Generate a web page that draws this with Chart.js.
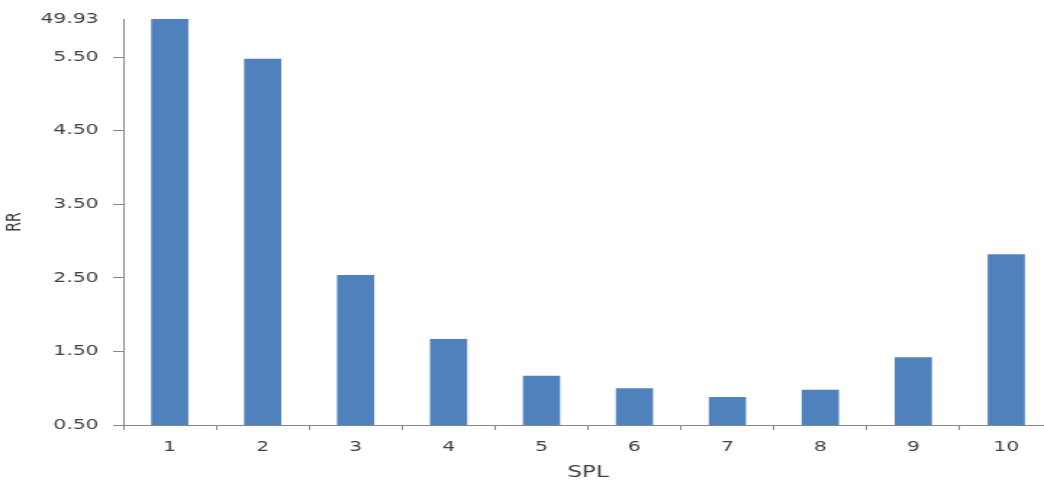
<!DOCTYPE html>
<html>
<head>
<meta charset="utf-8">
<script src="https://cdn.jsdelivr.net/npm/chart.js@4/dist/chart.umd.min.js"></script>
<style>
  html, body { margin: 0; padding: 0; background: #ffffff; overflow: hidden; }
  #frame { width: 1044px; height: 482px; overflow: hidden; position: relative; }
  #stretch { transform: scaleX(1.45); transform-origin: 0 0; width: 730px; height: 482px; }
</style>
</head>
<body>
<div id="frame"><div id="stretch"><canvas id="c" width="730" height="482"></canvas></div></div>
<script>
const categories = ['1', '2', '3', '4', '5', '6', '7', '8', '9', '10'];
const rrValues = [49.93, 5.48, 2.54, 1.67, 1.17, 1.00, 0.88, 0.98, 1.42, 2.82];
const yTickValues = [0.5, 1.5, 2.5, 3.5, 4.5, 5.5];
const breakValue = 6.02;      // axis top (break position)
const breakLabel = '49.93';   // label shown at the broken axis top

const axisColor = '#868686';
const textColor = '#404040';
const fontFamily = '"DejaVu Sans", Verdana, sans-serif';

new Chart(document.getElementById('c'), {
  type: 'bar',
  data: {
    labels: categories,
    datasets: [{
      label: 'RR',
      data: rrValues,
      backgroundColor: '#4F81BD',
      borderWidth: 0,
      categoryPercentage: 1.0,
      barPercentage: 0.4
    }]
  },
  options: {
    responsive: false,
    animation: false,
    devicePixelRatio: 1,
    layout: { padding: { top: 19, left: 0, right: 4, bottom: 0 } },
    plugins: { legend: { display: false }, tooltip: { enabled: false } },
    scales: {
      x: {
        offset: true,
        grid: { display: true, drawOnChartArea: false, drawTicks: true, tickLength: 5, color: axisColor, offset: true },
        border: { display: true, color: axisColor, width: 1 },
        ticks: { color: textColor, font: { family: fontFamily, size: 14 }, padding: 9, maxRotation: 0 },
        title: { display: true, text: 'SPL', color: textColor, font: { family: fontFamily, size: 16 }, padding: { top: 0, bottom: 0 } },
        afterFit: (s) => { s.height = 57; }
      },
      y: {
        min: 0.5,
        max: breakValue,
        afterBuildTicks: (s) => {
          s.ticks = yTickValues.concat([breakValue]).map(v => ({ value: v }));
        },
        grid: {
          display: true, drawOnChartArea: false, drawTicks: true, tickLength: 7,
          color: (ctx) => (ctx.tick && ctx.tick.value === breakValue) ? 'rgba(0,0,0,0)' : axisColor
        },
        border: { display: true, color: axisColor, width: 1 },
        ticks: {
          color: textColor, font: { family: fontFamily, size: 14 }, padding: 10,
          callback: (v) => (v === breakValue ? breakLabel : Number(v).toFixed(2))
        },
        title: { display: true, text: 'RR', color: textColor, font: { family: fontFamily, size: 14 }, padding: { top: 2, bottom: 0 } },
        afterFit: (s) => { s.width = 85; }
      }
    }
  }
});
</script>
</body>
</html>
